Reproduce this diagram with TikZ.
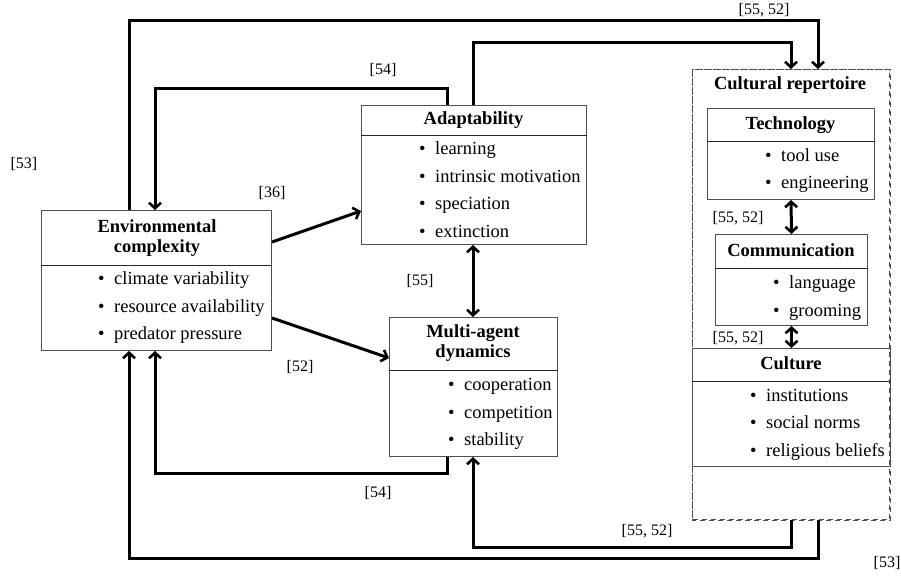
\documentclass[tikz,border=0pt]{standalone}
\usepackage{fontspec}
\setmainfont{Liberation Serif}
\usetikzlibrary{arrows.meta,calc}
\definecolor{boxgray}{HTML}{505050}
\tikzset{
  box/.style={draw=boxgray, line width=1pt, rectangle, anchor=north west, inner sep=0pt},
  divline/.style={draw=black!85, line width=1pt},
  hdr/.style={font=\fontsize{18.5}{20}\selectfont\bfseries, align=center, inner sep=0pt},
  item/.style={font=\fontsize{18.5}{20}\selectfont, anchor=base west, inner sep=0pt},
  lbl/.style={font=\fontsize{16}{18}\selectfont, inner sep=0pt},
  tipb/.tip={Straight Barb[length=5.5pt,width=12pt,line width=2.6pt]},
  conn/.style={line width=3pt, line join=miter, -tipb},
  conn2/.style={line width=3pt, tipb-tipb},
  dashbox/.style={draw=boxgray, line width=1pt, dash pattern=on 5pt off 4pt, rectangle, anchor=north west, inner sep=0pt}
}
\newcommand{\bul}{\textbullet\hspace{9.5pt}}
\begin{document}
\begin{tikzpicture}[x=1pt,y=-1pt]
\useasboundingbox (0,0) rectangle (901,581);
% container
\node[dashbox, minimum width=197pt, minimum height=450pt] (cult) at (692,69) {};
% boxes
\node[box, fill=white, minimum width=230pt, minimum height=140pt] (env) at (41,210) {};
\node[box, fill=white, minimum width=225pt, minimum height=139pt] (adapt) at (361,105) {};
\node[box, fill=white, minimum width=168pt, minimum height=139pt] (multi) at (389,317) {};
\node[box, fill=white, minimum width=167pt, minimum height=91pt] (tech) at (707,108) {};
\node[box, fill=white, minimum width=152pt, minimum height=91pt] (comm) at (715,234) {};
\node[box, minimum width=198pt, minimum height=118pt] (culture) at (692,348) {};
\draw[dashbox] (cult.north west) rectangle (cult.south east);
% dividers
\draw[divline] ($(env.north west)+(0,55)$) -- ($(env.north east)+(0,55)$);
\draw[divline] ($(adapt.north west)+(0,30)$) -- ($(adapt.north east)+(0,30)$);
\draw[divline] ($(multi.north west)+(0,53)$) -- ($(multi.north east)+(0,53)$);
\draw[divline] ($(tech.north west)+(0,33)$) -- ($(tech.north east)+(0,33)$);
\draw[divline] ($(comm.north west)+(0,34)$) -- ($(comm.north east)+(0,34)$);
\draw[divline] ($(culture.north west)+(0,33)$) -- ($(culture.north east)+(0,33)$);
% headers
\node[hdr] (envh) at (157,238) {Environmental\\complexity};
\node[hdr, anchor=base] (adapth) at (473.5,124) {Adaptability};
\node[hdr] (multih) at (473,343) {Multi-agent\\dynamics};
\node[hdr, anchor=base] (cultt) at (790,89) {Cultural repertoire};
\node[hdr, anchor=base] (techh) at (790.5,129) {Technology};
\node[hdr, anchor=base] (commh) at (791,256) {Communication};
\node[hdr, anchor=base] (cultureh) at (791,369) {Culture};
% items
\node[item] (e1) at (98,284) {\bul climate variability};
\node[item] (e2) at (98,312) {\bul resource availability};
\node[item] (e3) at (98,339) {\bul predator pressure};
\node[item] (a1) at (419,154) {\bul learning};
\node[item] (a2) at (419,182) {\bul intrinsic motivation};
\node[item] (a3) at (419,209) {\bul speciation};
\node[item] (a4) at (419,237) {\bul extinction};
\node[item] (m1) at (448,390) {\bul cooperation};
\node[item] (m2) at (448,418) {\bul competition};
\node[item] (m3) at (448,445) {\bul stability};
\node[item] (t1) at (765,161) {\bul tool use};
\node[item] (t2) at (765,188) {\bul engineering};
\node[item] (c1) at (773,288) {\bul language};
\node[item] (c2) at (773,316) {\bul grooming};
\node[item] (u1) at (750,401) {\bul institutions};
\node[item] (u2) at (750,428) {\bul social norms};
\node[item] (u3) at (750,456) {\bul religious beliefs};
% connectors
\draw[conn] ($(env.north west)+(88,0)$) -- ++(0,-190) -| ($(cult.north west)+(126,0)$);
\draw[conn] ($(adapt.north west)+(112,0)$) -- ++(0,-63) -| ($(cult.north west)+(99,0)$);
\draw[conn] ($(adapt.north west)+(86,0)$) -- ++(0,-17) -| ($(env.north west)+(114,0)$);
\draw[conn] ($(multi.south west)+(58,0)$) -- ++(0,16) -| ($(env.south west)+(114,0)$);
\draw[conn] ($(cult.south west)+(99,0)$) -- ++(0,27) -| ($(multi.south west)+(84,0)$);
\draw[conn] ($(cult.south west)+(126,0)$) -- ++(0,38) -| ($(env.south west)+(88,0)$);
\draw[conn2] ($(adapt.south west)+(112,0)$) -- ($(multi.north west)+(84,0)$);
\draw[conn] ($(env.north east)+(0,32)$) -- ($(adapt.north west)+(0,106)$);
\draw[conn] ($(env.north east)+(0,108)$) -- ($(multi.north west)+(0,41)$);
\draw[conn2] (tech.south) -- (comm.north);
\draw[conn2] (comm.south) -- (culture.north);
% labels
\node[lbl, anchor=base] (l1) at (764,14) {[55, 52]};
\node[lbl, anchor=base] (l2) at (383,74) {[54]};
\node[lbl, anchor=base] (l3) at (24,168) {[53]};
\node[lbl, anchor=base] (l4) at (272,197) {[36]};
\node[lbl, anchor=base] (l5) at (420,285) {[55]};
\node[lbl, anchor=base] (l6) at (300,371) {[52]};
\node[lbl, anchor=base] (l7) at (378,497) {[54]};
\node[lbl, anchor=base] (l8) at (647,535) {[55, 52]};
\node[lbl, anchor=base] (l9) at (887,567) {[53]};
\node[lbl, anchor=base] (l10) at (738,222) {[55, 52]};
\node[lbl, anchor=base] (l11) at (738,342) {[55, 52]};
\end{tikzpicture}
\end{document}
